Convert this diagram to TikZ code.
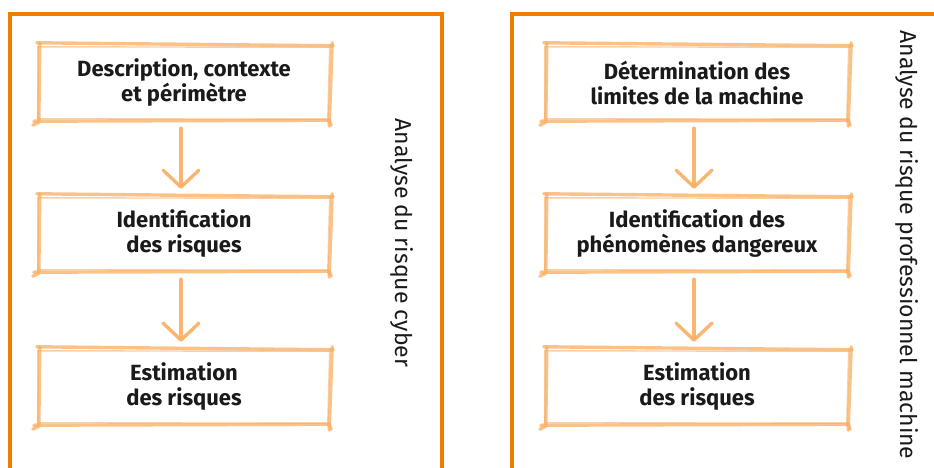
\documentclass[tikz,border=0pt]{standalone}
\usepackage{fontspec}
\setmainfont{Fira Sans}
\usetikzlibrary{arrows.meta}
\definecolor{frameor}{HTML}{F07D00}
\definecolor{sketchor}{HTML}{F8AE62}
\definecolor{txt}{HTML}{1A1A1A}
\tikzset{
  stepnode/.style={minimum height=74pt, inner sep=0pt, align=center,
    font=\fontsize{22}{25}\selectfont\bfseries, text=txt},
  sketch/.style={draw=sketchor, line width=3.4pt, line cap=round, line join=round, opacity=0.75},
  sketchthin/.style={draw=sketchor, line width=1.4pt, line cap=round, opacity=0.6},
  flow/.style={draw=sketchor, line width=3.4pt, line cap=round, opacity=0.9,
    -{Straight Barb[length=17pt,width=36pt,line cap=round,line join=round]},
    shorten <=8pt, shorten >=8pt},
  frame/.style={draw=frameor, line width=3.5pt},
  sidelabel/.style={rotate=-90, inner sep=0pt, font=\fontsize{23}{26}\selectfont, text=txt}
}
\newcommand{\sketchbox}[1]{%
  \draw[sketch] ([shift={(-3,-3)}]#1.north west) -- ([shift={(5,0)}]#1.north east);
  \draw[sketch] ([shift={(0,-3)}]#1.north west) -- ([shift={(-1,2)}]#1.south west) -- ([shift={(-7,5)}]#1.south west);
  \draw[sketch] ([shift={(-6,1)}]#1.south west) -- ([shift={(1,0)}]#1.south east) -- ([shift={(3,5)}]#1.south east);
  \draw[sketch] ([shift={(4,-3)}]#1.north east) -- ([shift={(1,6)}]#1.south east);
  \draw[sketchthin] ([shift={(-2,1)}]#1.north west) -- ([shift={(3,1.5)}]#1.north east);
  \draw[sketchthin] ([shift={(-2,1)}]#1.north west) -- ([shift={(-2,-2)}]#1.south west);
  \draw[sketchthin] ([shift={(-2,-1.5)}]#1.south west) -- ([shift={(2,-1)}]#1.south east);
  \draw[sketchthin] ([shift={(1.5,0)}]#1.north east) -- ([shift={(-0.5,2)}]#1.south east);
}
\begin{document}
\begin{tikzpicture}[x=1pt, y=-1pt]
\useasboundingbox (0,0) rectangle (934,468);
% frames
\draw[frame] (10,472) -- (10,14) -- (442,14) -- (442,472);
\draw[frame] (512,472) -- (512,14) -- (938,14);
% left column
\node[stepnode, minimum width=288pt] (l1) at (184,83) {Description, contexte\\et périmètre};
\node[stepnode, minimum width=288pt] (l2) at (184,234) {Identification\\des risques};
\node[stepnode, minimum width=288pt] (l3) at (184,387) {Estimation\\des risques};
\sketchbox{l1}\sketchbox{l2}\sketchbox{l3}
\draw[flow] ([xshift=-3pt]l1.south) -- ([xshift=-3pt]l2.north);
\draw[flow] ([xshift=-3pt]l2.south) -- ([xshift=-3pt]l3.north);
\node[sidelabel] (lab1) at (402,243) {Analyse du risque cyber};
% right column
\node[stepnode, minimum width=300pt] (r1) at (697,83) {Détermination des\\limites de la machine};
\node[stepnode, minimum width=300pt] (r2) at (697,234) {Identification des\\phénomènes dangereux};
\node[stepnode, minimum width=300pt] (r3) at (697,387) {Estimation\\des risques};
\sketchbox{r1}\sketchbox{r2}\sketchbox{r3}
\draw[flow] ([xshift=-3pt]r1.south) -- ([xshift=-3pt]r2.north);
\draw[flow] ([xshift=-3pt]r2.south) -- ([xshift=-3pt]r3.north);
\node[sidelabel] (lab2) at (907,245) {Analyse du risque professionnel machine};
\end{tikzpicture}
\end{document}
